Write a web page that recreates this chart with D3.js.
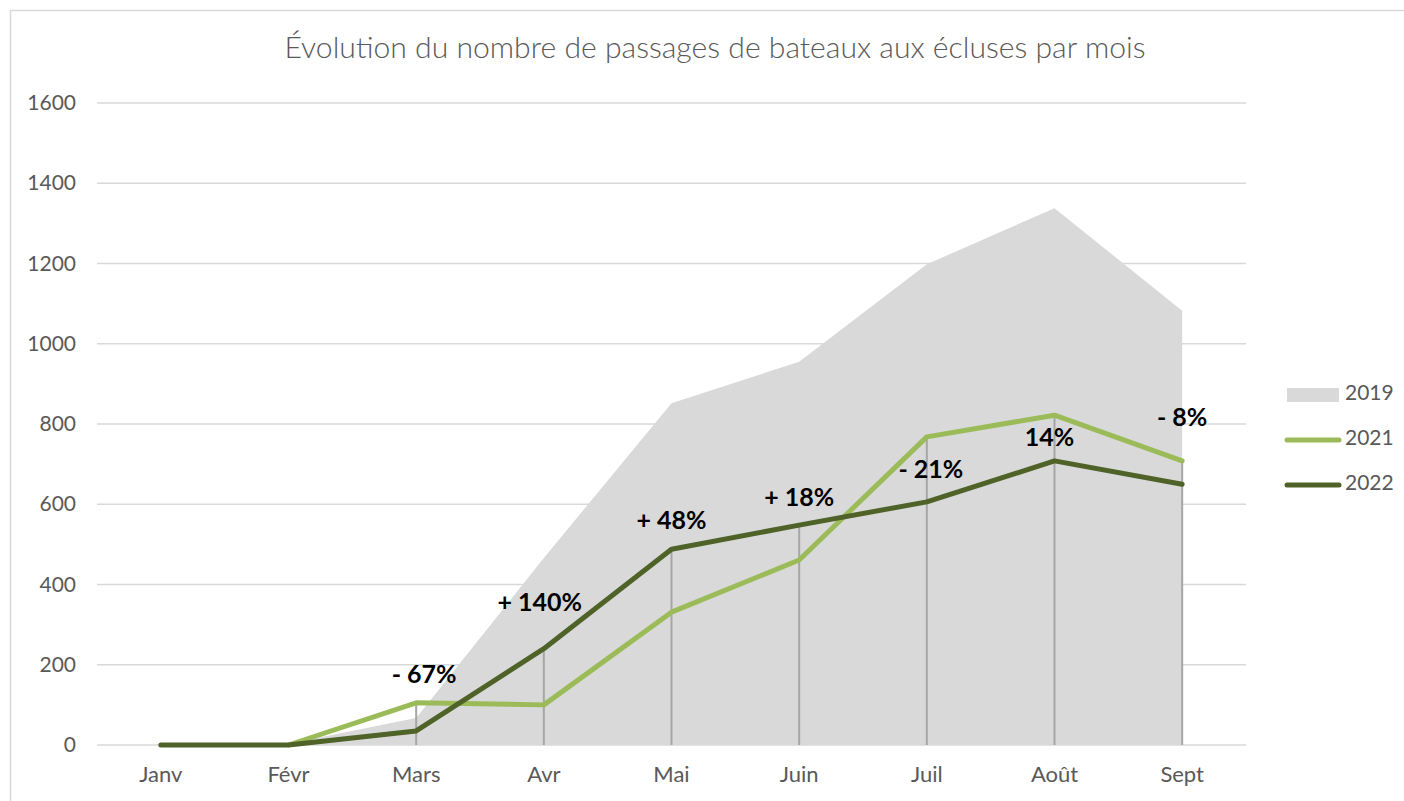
<!DOCTYPE html>
<html>
<head>
<meta charset="utf-8">
<script src="https://cdn.jsdelivr.net/npm/d3@7"></script>
<style>
    body { margin: 0; background: #fff; }
    #chart { width: 1404px; height: 801px; }
    text { font-family: Lato, "Open Sans", sans-serif; }
</style>
</head>
<body>
<div id="chart"></div>
<script>
// data
const months = ["Janv", "Févr", "Mars", "Avr", "Mai", "Juin", "Juil", "Août", "Sept"];
const values2019 = [0, 3, 67, 466, 852, 955, 1198, 1338, 1082];
const values2021 = [0, 0, 105, 100, 331, 461, 768, 822, 708];
const values2022 = [0, 0, 35, 240, 488, 548, 606, 708, 650];
const evolutionLabels = [null, null, "- 67%", "+ 140%", "+ 48%", "+ 18%", "- 21%", "14%", "- 8%"];
const yTicks = [0, 200, 400, 600, 800, 1000, 1200, 1400, 1600];

/*
SETTING UP THE SVG CANVAS
*/
const width = 1404;
const height = 801;
const margin = { top: 103, left: 97, right: 158, bottom: 56 };

const svg = d3.select("#chart")
    .append("svg")
    .attr("width", width)
    .attr("height", height);

// chart border
svg.append("rect")
    .attr("x", 10.5)
    .attr("y", 10.5)
    .attr("width", width + 20)
    .attr("height", height + 20)
    .attr("fill", "none")
    .attr("stroke", "#d9d9d9")
    .attr("stroke-width", 1.5);

/*
SCALES
*/
const xScale = d3.scaleBand()
    .domain(months)
    .range([margin.left, width - margin.right]);

const xPos = function (m) { return xScale(m) + xScale.bandwidth() / 2; };

const yScale = d3.scaleLinear()
    .domain([0, 1600])
    .range([height - margin.bottom, margin.top]);

/*
GRIDLINES + AXES
*/
svg.append("g")
    .selectAll("line")
    .data(yTicks)
    .enter()
    .append("line")
    .attr("x1", margin.left)
    .attr("x2", width - margin.right)
    .attr("y1", d => yScale(d))
    .attr("y2", d => yScale(d))
    .attr("stroke", "#d9d9d9")
    .attr("stroke-width", 1.5);

const yAxis = svg.append("g")
    .attr("transform", `translate(${margin.left - 21},0)`)
    .call(d3.axisLeft(yScale).tickValues(yTicks).tickFormat(d3.format("d")).tickSize(0).tickPadding(0));
yAxis.select(".domain").remove();
yAxis.selectAll("text")
    .attr("fill", "#595959")
    .style("font-size", "21px");

/*
2019 AREA
*/
const area = d3.area()
    .x((d, i) => xPos(months[i]))
    .y0(yScale(0))
    .y1(d => yScale(d));

svg.append("path")
    .datum(values2019)
    .attr("d", area)
    .attr("fill", "#d9d9d9");

// drop lines from highest line point
svg.append("g")
    .selectAll("line")
    .data(months)
    .enter()
    .append("line")
    .attr("x1", d => xPos(d))
    .attr("x2", d => xPos(d))
    .attr("y1", (d, i) => yScale(Math.max(values2021[i], values2022[i])))
    .attr("y2", yScale(0))
    .attr("stroke", "#a6a6a6")
    .attr("stroke-width", 2);

/*
X AXIS LABELS
*/
const xAxis = svg.append("g")
    .attr("transform", `translate(0,${yScale(0)})`)
    .call(d3.axisBottom(xScale).tickSize(0).tickPadding(21));
xAxis.select(".domain").remove();
xAxis.selectAll("text")
    .attr("fill", "#595959")
    .style("font-size", "22px");

/*
LINES
*/
const line = d3.line()
    .x((d, i) => xPos(months[i]))
    .y(d => yScale(d));

// 2021 line starts at Févr
svg.append("path")
    .datum(values2021.slice(1))
    .attr("d", d3.line().x((d, i) => xPos(months[i + 1])).y(d => yScale(d)))
    .attr("fill", "none")
    .attr("stroke", "#9bbb59")
    .attr("stroke-width", 5)
    .attr("stroke-linecap", "round")
    .attr("stroke-linejoin", "round");

svg.append("path")
    .datum(values2022)
    .attr("d", line)
    .attr("fill", "none")
    .attr("stroke", "#4f6228")
    .attr("stroke-width", 5)
    .attr("stroke-linecap", "round")
    .attr("stroke-linejoin", "round");

/*
EVOLUTION LABELS
*/
// offsets from the 2022 point, as placed in the original
const labelDy = [0, 0, -54, -44, -27, -26, -30, -21, -65];
const labelDx = [0, 0, 8, -4, 0, 0, 4, -5, 0];

svg.append("g")
    .selectAll("text")
    .data(months)
    .enter()
    .filter((d, i) => evolutionLabels[i] !== null)
    .append("text")
    .attr("x", d => xPos(d) + labelDx[months.indexOf(d)])
    .attr("y", d => yScale(values2022[months.indexOf(d)]) + labelDy[months.indexOf(d)])
    .attr("text-anchor", "middle")
    .attr("dominant-baseline", "middle")
    .attr("font-weight", "bold")
    .style("font-size", "25px")
    .attr("fill", "#000")
    .text(d => evolutionLabels[months.indexOf(d)]);

/*
TITLE
*/
svg.append("text")
    .attr("x", 715)
    .attr("y", 51)
    .attr("text-anchor", "middle")
    .attr("dominant-baseline", "middle")
    .attr("fill", "#595959")
    .attr("textLength", 861)
    .attr("lengthAdjust", "spacingAndGlyphs")
    .style("font-size", "30px")
    .style("font-weight", "300")
    .text("Évolution du nombre de passages de bateaux aux écluses par mois");

/*
LEGEND
*/
const legend = svg.append("g").attr("transform", "translate(1287,0)");
const legendItems = [
    { name: "2019", y: 395, type: "area", color: "#d9d9d9" },
    { name: "2021", y: 440, type: "line", color: "#9bbb59" },
    { name: "2022", y: 485, type: "line", color: "#4f6228" }
];
legendItems.forEach(function (item) {
    if (item.type === "area") {
        legend.append("rect")
            .attr("x", 0)
            .attr("y", item.y - 7)
            .attr("width", 52)
            .attr("height", 14)
            .attr("fill", item.color);
    } else {
        legend.append("line")
            .attr("x1", 0)
            .attr("x2", 52)
            .attr("y1", item.y)
            .attr("y2", item.y)
            .attr("stroke", item.color)
            .attr("stroke-width", 5)
            .attr("stroke-linecap", "round");
    }
    legend.append("text")
        .attr("x", 58)
        .attr("y", item.y)
        .attr("dominant-baseline", "middle")
        .attr("fill", "#595959")
        .style("font-size", "21px")
        .text(item.name);
});
</script>
</body>
</html>
